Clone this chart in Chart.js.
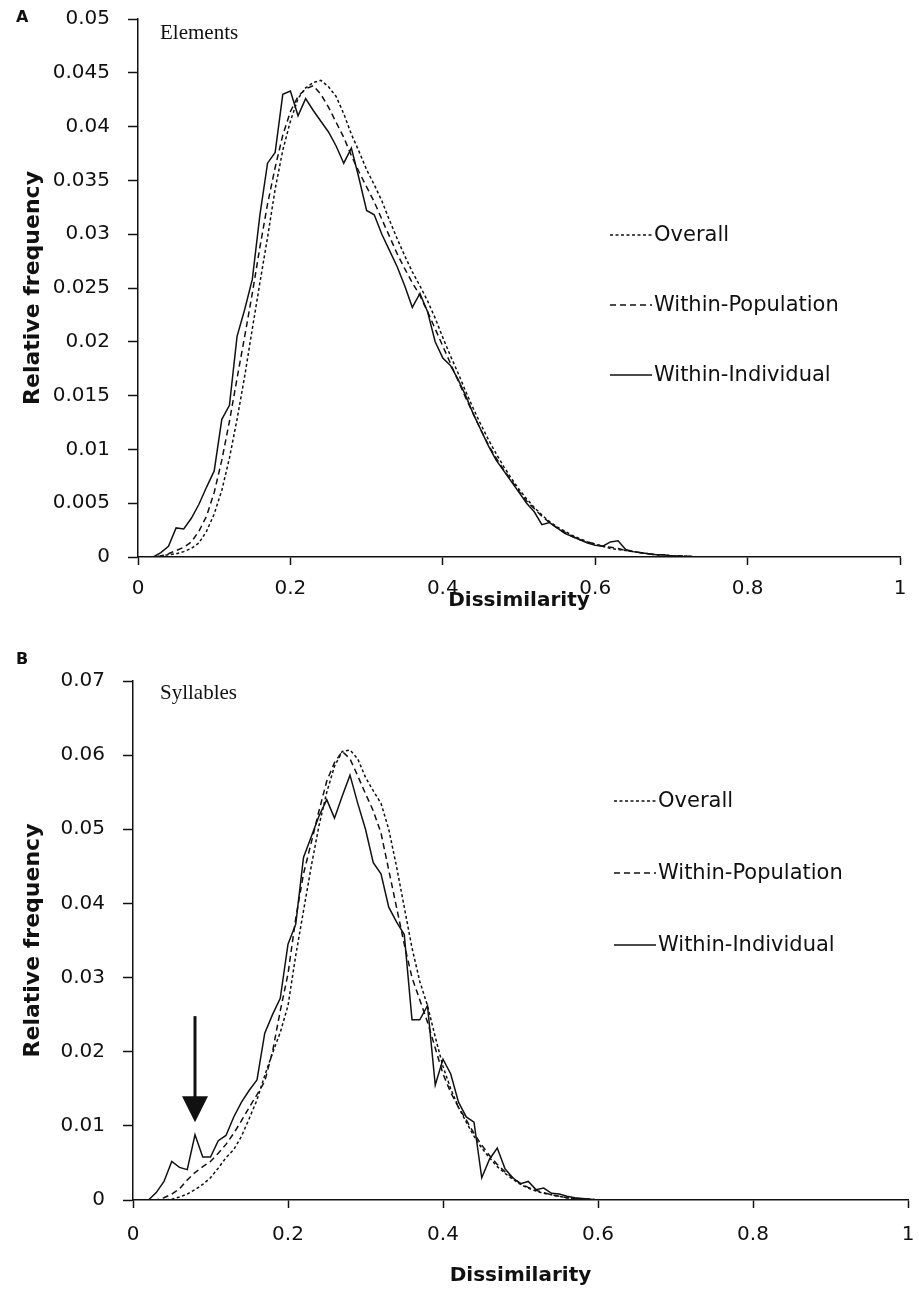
<!DOCTYPE html>
<html>
<head>
<meta charset="utf-8">
<script src="https://cdn.jsdelivr.net/npm/chart.js@4.4.1/dist/chart.umd.min.js"></script>
<style>
    html, body { margin: 0; padding: 0; background: #fff; }
    .panel { position: absolute; left: 0; width: 919px; }
    #panel-a { top: 0; height: 630px; }
    #panel-b { top: 640px; height: 649px; }
</style>
</head>
<body>
<div class="panel" id="panel-a"><canvas id="chart-a" width="919" height="630"></canvas></div>
<div class="panel" id="panel-b"><canvas id="chart-b" width="919" height="649"></canvas></div>
<script>
// Shared dissimilarity bins (0.00 - 0.80, step 0.01)
const dissimilarity = [
    0.00, 0.01, 0.02, 0.03, 0.04, 0.05, 0.06, 0.07, 0.08, 0.09,
    0.10, 0.11, 0.12, 0.13, 0.14, 0.15, 0.16, 0.17, 0.18, 0.19,
    0.20, 0.21, 0.22, 0.23, 0.24, 0.25, 0.26, 0.27, 0.28, 0.29,
    0.30, 0.31, 0.32, 0.33, 0.34, 0.35, 0.36, 0.37, 0.38, 0.39,
    0.40, 0.41, 0.42, 0.43, 0.44, 0.45, 0.46, 0.47, 0.48, 0.49,
    0.50, 0.51, 0.52, 0.53, 0.54, 0.55, 0.56, 0.57, 0.58, 0.59,
    0.60, 0.61, 0.62, 0.63, 0.64, 0.65, 0.66, 0.67, 0.68, 0.69,
    0.70, 0.71, 0.72, 0.73, 0.74, 0.75, 0.76, 0.77, 0.78, 0.79,
    0.80
];

const seriesNames = ['Overall', 'Within-Population', 'Within-Individual'];

// Panel A - Elements
const overallA = [
    0, 0, 0, 0.0001, 0.0002, 0.0003, 0.0005, 0.0008, 0.0013, 0.0024,
    0.0040, 0.0062, 0.0092, 0.0128, 0.0168, 0.0212, 0.0255, 0.0297, 0.0342, 0.0378,
    0.0405, 0.0426, 0.0436, 0.0441, 0.0443, 0.0437, 0.0428, 0.0412, 0.0393, 0.0377,
    0.0360, 0.0346, 0.0331, 0.0313, 0.0296, 0.0280, 0.0265, 0.0252, 0.0238, 0.0222,
    0.0204, 0.0187, 0.0171, 0.0154, 0.0138, 0.0123, 0.0109, 0.0096, 0.0084, 0.0073,
    0.0063, 0.0054, 0.0046, 0.0039, 0.0033, 0.0028, 0.0024, 0.0020, 0.0017, 0.0014,
    0.0012, 0.0010, 0.0008, 0.0007, 0.0006, 0.0005, 0.0004, 0.0003, 0.0002, 0.0002,
    0.0001, 0.0001, 0.0001, 0, 0, 0, 0, 0, 0, 0,
    0
];
const withinPopA = [
    0, 0, 0, 0.0001, 0.0003, 0.0006, 0.0009, 0.0014, 0.0024, 0.0038,
    0.0060, 0.0090, 0.0126, 0.0166, 0.0205, 0.0245, 0.0288, 0.0328, 0.0362, 0.0392,
    0.0414, 0.0428, 0.0435, 0.0438, 0.0430, 0.0418, 0.0404, 0.0390, 0.0373, 0.0358,
    0.0344, 0.0330, 0.0314, 0.0298, 0.0282, 0.0268, 0.0255, 0.0243, 0.0228, 0.0212,
    0.0196, 0.0180, 0.0164, 0.0148, 0.0133, 0.0118, 0.0104, 0.0092, 0.0081, 0.0071,
    0.0061, 0.0052, 0.0045, 0.0038, 0.0032, 0.0027, 0.0023, 0.0019, 0.0016, 0.0014,
    0.0012, 0.0010, 0.0009, 0.0008, 0.0006, 0.0005, 0.0004, 0.0003, 0.0002, 0.0002,
    0.0001, 0.0001, 0.0001, 0, 0, 0, 0, 0, 0, 0,
    0
];
const withinIndA = [
    0, 0, 0, 0.0004, 0.0010, 0.0027, 0.0026, 0.0036, 0.0049, 0.0065,
    0.0080, 0.0128, 0.0141, 0.0205, 0.0230, 0.0258, 0.0318, 0.0366, 0.0376, 0.0430,
    0.0433, 0.0410, 0.0426, 0.0415, 0.0405, 0.0395, 0.0382, 0.0366, 0.0380, 0.0352,
    0.0322, 0.0318, 0.0300, 0.0285, 0.0270, 0.0252, 0.0232, 0.0245, 0.0228, 0.0200,
    0.0185, 0.0178, 0.0165, 0.0150, 0.0133, 0.0118, 0.0103, 0.0090, 0.0080, 0.0070,
    0.0060, 0.0050, 0.0042, 0.0030, 0.0032, 0.0027, 0.0022, 0.0019, 0.0016, 0.0013,
    0.0011, 0.0010, 0.0014, 0.0015, 0.0007, 0.0005, 0.0004, 0.0003, 0.0002, 0.0002,
    0.0001, 0.0001, 0, 0, 0, 0, 0, 0, 0, 0,
    0
];

// Panel B - Syllables
const overallB = [
    0, 0, 0, 0, 0, 0.0001, 0.0004, 0.0008, 0.0014, 0.0021,
    0.0030, 0.0043, 0.0057, 0.0068, 0.0086, 0.0110, 0.0135, 0.0168, 0.0198, 0.0226,
    0.0262, 0.0330, 0.0390, 0.0450, 0.0505, 0.0550, 0.0585, 0.0605, 0.0607, 0.0595,
    0.0570, 0.0552, 0.0535, 0.0500, 0.0450, 0.0395, 0.0340, 0.0295, 0.0262, 0.0220,
    0.0180, 0.0150, 0.0125, 0.0105, 0.0086, 0.0070, 0.0057, 0.0045, 0.0036, 0.0028,
    0.0021, 0.0016, 0.0012, 0.0009, 0.0007, 0.0005, 0.0003, 0.0002, 0.0001, 0.0001,
    0, 0, 0, 0, 0, 0, 0, 0, 0, 0,
    0, 0, 0, 0, 0, 0, 0, 0, 0, 0,
    0
];
const withinPopB = [
    0, 0, 0, 0, 0.0003, 0.0008, 0.0015, 0.0027, 0.0037, 0.0045,
    0.0052, 0.0063, 0.0075, 0.0090, 0.0107, 0.0125, 0.0142, 0.0160, 0.0200, 0.0255,
    0.0305, 0.0380, 0.0440, 0.0482, 0.0525, 0.0565, 0.0590, 0.0605, 0.0595, 0.0572,
    0.0548, 0.0525, 0.0495, 0.0445, 0.0395, 0.0345, 0.0300, 0.0270, 0.0240, 0.0205,
    0.0170, 0.0145, 0.0125, 0.0108, 0.0090, 0.0074, 0.0060, 0.0048, 0.0038, 0.0030,
    0.0022, 0.0017, 0.0013, 0.0010, 0.0007, 0.0005, 0.0003, 0.0002, 0.0001, 0.0001,
    0, 0, 0, 0, 0, 0, 0, 0, 0, 0,
    0, 0, 0, 0, 0, 0, 0, 0, 0, 0,
    0
];
const withinIndB = [
    0, 0, 0, 0.0010, 0.0025, 0.0052, 0.0044, 0.0041, 0.0088, 0.0058,
    0.0058, 0.0080, 0.0087, 0.0112, 0.0132, 0.0148, 0.0162, 0.0225, 0.0250, 0.0272,
    0.0345, 0.0372, 0.0462, 0.0490, 0.0518, 0.0540, 0.0515, 0.0545, 0.0573, 0.0535,
    0.0500, 0.0455, 0.0440, 0.0395, 0.0375, 0.0358, 0.0243, 0.0243, 0.0262, 0.0155,
    0.0190, 0.0170, 0.0132, 0.0112, 0.0105, 0.0030, 0.0055, 0.0070, 0.0042, 0.0030,
    0.0022, 0.0025, 0.0014, 0.0016, 0.0009, 0.0008, 0.0005, 0.0003, 0.0002, 0.0001,
    0, 0, 0, 0, 0, 0, 0, 0, 0, 0,
    0, 0, 0, 0, 0, 0, 0, 0, 0, 0,
    0
];

// Tick values
const xTickValues = [0, 0.2, 0.4, 0.6, 0.8, 1];
const yTickValuesA = [0, 0.005, 0.01, 0.015, 0.02, 0.025, 0.03, 0.035, 0.04, 0.045, 0.05];
const yTickValuesB = [0, 0.01, 0.02, 0.03, 0.04, 0.05, 0.06, 0.07];

// Arrow marking the low-dissimilarity peak in B: [x, shaft top, tip]
const arrowB = [0.08, 0.0248, 0.0105];

const textColor = '#111';
const tickFont = { family: "'DejaVu Sans', sans-serif", size: 20 };
const xTitleFont = { family: "'DejaVu Sans', sans-serif", size: 20, weight: 'bold' };
const yTitleFont = { family: "'DejaVu Sans', sans-serif", size: 22, weight: 'bold' };
const lineStyles = [
    { borderDash: [3, 2.5] },
    { borderDash: [6, 4] },
    { borderDash: [] }
];

function toPoints(values) {
    return values.map((v, i) => ({ x: dissimilarity[i], y: v }));
}

const panelDecor = {
    id: 'panelDecor',
    afterDraw(chart, args, opts) {
        const ctx = chart.ctx;
        ctx.save();
        ctx.fillStyle = textColor;
        ctx.strokeStyle = textColor;
        ctx.textBaseline = 'middle';

        // panel letter
        ctx.font = "bold 16px 'DejaVu Sans', sans-serif";
        ctx.fillText(opts.letter, 16, opts.letterY);

        // data set name
        ctx.font = "21px 'Liberation Serif', serif";
        ctx.fillText(opts.label, opts.labelX, opts.labelY);

        // legend
        ctx.font = "21px 'DejaVu Sans', sans-serif";
        chart.data.datasets.forEach((ds, i) => {
            const y = opts.legendY[i];
            ctx.lineWidth = ds.borderWidth;
            ctx.setLineDash(ds.borderDash);
            ctx.beginPath();
            ctx.moveTo(opts.legendX, y);
            ctx.lineTo(opts.legendX + 42, y);
            ctx.stroke();
            ctx.setLineDash([]);
            ctx.fillText(ds.label, opts.legendX + 44, y + 1);
        });

        // arrow
        if (opts.arrow) {
            const xs = chart.scales.x, ys = chart.scales.y;
            const ax = xs.getPixelForValue(opts.arrow[0]);
            const top = ys.getPixelForValue(opts.arrow[1]);
            const tip = ys.getPixelForValue(opts.arrow[2]);
            ctx.lineWidth = 3;
            ctx.beginPath();
            ctx.moveTo(ax, top);
            ctx.lineTo(ax, tip - 20);
            ctx.stroke();
            ctx.beginPath();
            ctx.moveTo(ax - 13, tip - 26);
            ctx.lineTo(ax + 13, tip - 26);
            ctx.lineTo(ax, tip);
            ctx.closePath();
            ctx.fill();
        }
        ctx.restore();
    }
};

function makeChart(id, series, yMax, yTicks, layout, decor) {
    const canvas = document.getElementById(id);
    if (!(canvas instanceof HTMLCanvasElement)) return;
    new Chart(canvas, {
        type: 'line',
        data: {
            datasets: series.map((values, i) => ({
                label: seriesNames[i],
                data: toPoints(values),
                borderColor: '#111',
                borderWidth: 1.5,
                borderDash: lineStyles[i].borderDash,
                pointRadius: 0,
                tension: 0,
                fill: false
            }))
        },
        options: {
            responsive: false,
            animation: false,
            layout: { padding: layout.padding },
            plugins: {
                legend: { display: false },
                tooltip: { enabled: false },
                panelDecor: decor
            },
            scales: {
                x: {
                    type: 'linear',
                    min: 0,
                    max: 1,
                    afterBuildTicks: scale => { scale.ticks = xTickValues.map(v => ({ value: v })); },
                    afterFit: scale => { scale.height = layout.xHeight; scale.paddingLeft = 0; scale.paddingRight = 0; },
                    border: { display: true, color: '#111', width: 1.5 },
                    grid: { drawOnChartArea: false, tickLength: 8, tickColor: '#111', tickWidth: 1.5 },
                    ticks: {
                        font: tickFont,
                        color: textColor,
                        padding: layout.xTickPad,
                        maxRotation: 0,
                        callback: v => String(v)
                    },
                    title: {
                        display: true,
                        text: 'Dissimilarity',
                        font: xTitleFont,
                        color: textColor,
                        padding: { top: 0, bottom: layout.xTitlePad }
                    }
                },
                y: {
                    min: 0,
                    max: yMax,
                    afterBuildTicks: scale => { scale.ticks = yTicks.map(v => ({ value: v })); },
                    afterFit: scale => { scale.width = layout.yWidth; scale.paddingTop = 0; scale.paddingBottom = 0; },
                    border: { display: true, color: '#111', width: 1.5 },
                    grid: { drawOnChartArea: false, tickLength: 10, tickColor: '#111', tickWidth: 1.5 },
                    ticks: {
                        font: tickFont,
                        color: textColor,
                        padding: 18,
                        callback: v => String(v)
                    },
                    title: {
                        display: true,
                        text: 'Relative frequency',
                        font: yTitleFont,
                        color: textColor,
                        padding: { top: 20, bottom: 0 }
                    }
                }
            }
        },
        plugins: [panelDecor]
    });
}

makeChart('chart-a', [overallA, withinPopA, withinIndA], 0.05, yTickValuesA,
    { padding: { top: 19, right: 19, left: 0, bottom: 0 }, xHeight: 73, yWidth: 138, xTickPad: 12, xTitlePad: 17 },
    { letter: 'A', letterY: 18, label: 'Elements', labelX: 160, labelY: 33,
      legendX: 610, legendY: [235, 305, 375] });

makeChart('chart-b', [overallB, withinPopB, withinIndB], 0.07, yTickValuesB,
    { padding: { top: 41, right: 11, left: 0, bottom: 0 }, xHeight: 89, yWidth: 133, xTickPad: 15, xTitlePad: 1 },
    { letter: 'B', letterY: 20, label: 'Syllables', labelX: 160, labelY: 53,
      legendX: 614, legendY: [161, 233, 305], arrow: arrowB });
</script>
</body>
</html>
